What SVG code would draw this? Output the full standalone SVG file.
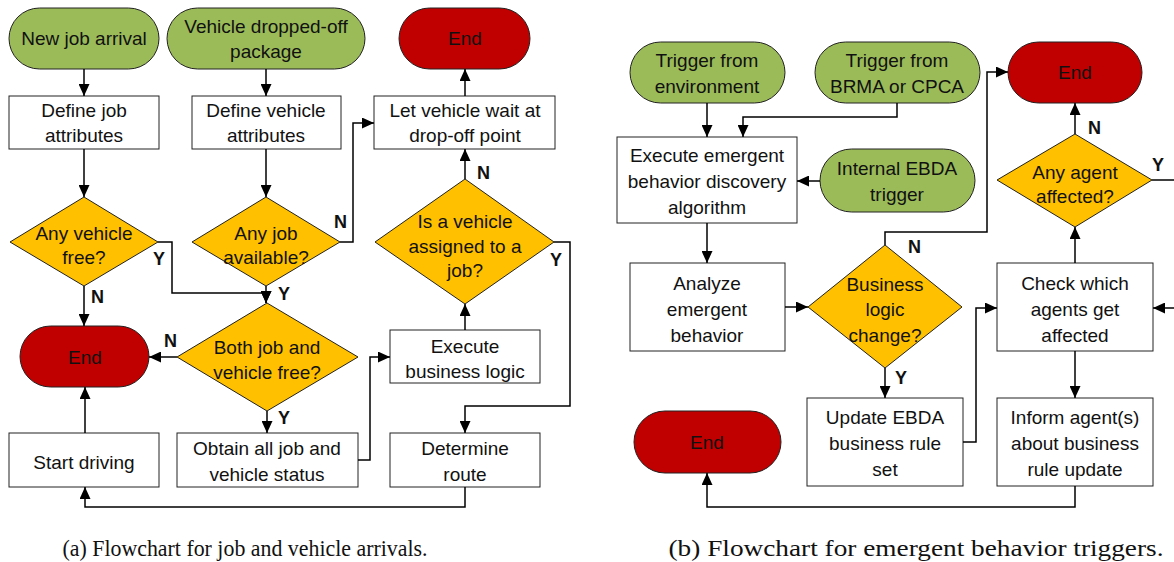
<svg xmlns="http://www.w3.org/2000/svg" width="1174" height="562" viewBox="0 0 1174 562">
<defs>
<marker id="arr" markerUnits="userSpaceOnUse" markerWidth="12" markerHeight="11" viewBox="0 0 12 11" refX="12" refY="5.5" orient="auto">
<path d="M0,0 L12,5.5 L0,11 z" fill="#000"/>
</marker>
<style>
.start{fill:#9BBB59;stroke:#222;stroke-width:1}
.end{fill:#C00000;stroke:#222;stroke-width:1}
.proc{fill:#fff;stroke:#222;stroke-width:1}
.dec{fill:#FFC000;stroke:#222;stroke-width:1}
text{font-family:"Liberation Sans",Arial,sans-serif;font-size:19px;fill:#111;text-anchor:middle;dominant-baseline:central}
.lbl{font-weight:bold;font-size:18px;text-anchor:start}
.cap{font-family:"Liberation Serif","Times New Roman",serif;font-size:23px;dominant-baseline:alphabetic}
#connectors path{fill:none;stroke:#000;stroke-width:1.5}
</style>
</defs>
<rect width="1174" height="562" fill="#fff"/>

<!-- Left flowchart nodes -->
<g id="new-job"><rect class="start" x="9" y="8" width="150" height="61" rx="30.5"/><text x="84" y="38">New job arrival</text></g>
<g id="veh-drop"><rect class="start" x="167" y="8" width="198" height="61" rx="30.5"/><text x="266" y="26">Vehicle dropped-off</text><text x="266" y="51">package</text></g>
<g id="end-a1"><rect class="end" x="399" y="8" width="131" height="61" rx="30.5"/><text x="465" y="38">End</text></g>
<g id="def-job"><rect class="proc" x="9" y="96" width="150" height="53"/><text x="84" y="110">Define job</text><text x="84" y="135">attributes</text></g>
<g id="def-veh"><rect class="proc" x="192" y="96" width="149" height="53"/><text x="266" y="110">Define vehicle</text><text x="266" y="135">attributes</text></g>
<g id="let-wait"><rect class="proc" x="374" y="96" width="181" height="53"/><text x="465" y="110">Let vehicle wait at</text><text x="465" y="135">drop-off point</text></g>
<g id="any-veh"><polygon class="dec" points="84,197 158,242 84,286 10,242"/><text x="84" y="233">Any vehicle</text><text x="84" y="257">free?</text></g>
<g id="any-job"><polygon class="dec" points="266,197 340,242 266,286 192,242"/><text x="266" y="233">Any job</text><text x="266" y="257">available?</text></g>
<g id="is-assigned"><polygon class="dec" points="465,179 554,242 465,304 375,242"/><text x="465" y="221">Is a vehicle</text><text x="465" y="246">assigned to a</text><text x="465" y="270">job?</text></g>
<g id="end-a2"><rect class="end" x="20" y="326" width="129" height="61" rx="30.5"/><text x="85" y="357">End</text></g>
<g id="both-free"><polygon class="dec" points="267,303 358,357 267,411 177,357"/><text x="267" y="347">Both job and</text><text x="267" y="372">vehicle free?</text></g>
<g id="exec-bl"><rect class="proc" x="390" y="330" width="150" height="53"/><text x="465" y="346">Execute</text><text x="465" y="371">business logic</text></g>
<g id="start-driving"><rect class="proc" x="9" y="433" width="150" height="54"/><text x="84" y="462">Start driving</text></g>
<g id="obtain"><rect class="proc" x="177" y="433" width="181" height="54"/><text x="267" y="448">Obtain all job and</text><text x="267" y="474">vehicle status</text></g>
<g id="determine"><rect class="proc" x="390" y="433" width="150" height="54"/><text x="465" y="448">Determine</text><text x="465" y="474">route</text></g>

<!-- Right flowchart nodes -->
<g id="trig-env"><rect class="start" x="630" y="42" width="155" height="61" rx="30.5"/><text x="707" y="60">Trigger from</text><text x="707" y="86">environment</text></g>
<g id="trig-brma"><rect class="start" x="815" y="42" width="165" height="61" rx="30.5"/><text x="897" y="60">Trigger from</text><text x="897" y="86">BRMA or CPCA</text></g>
<g id="end-b1"><rect class="end" x="1008" y="42" width="134" height="61" rx="30.5"/><text x="1075" y="72">End</text></g>
<g id="exec-ebda"><rect class="proc" x="617" y="137" width="180" height="86"/><text x="707" y="155">Execute emergent</text><text x="707" y="181">behavior discovery</text><text x="707" y="207">algorithm</text></g>
<g id="internal"><rect class="start" x="820" y="149" width="155" height="63" rx="31.5"/><text x="897" y="168">Internal EBDA</text><text x="897" y="194">trigger</text></g>
<g id="any-agent"><polygon class="dec" points="1075,134 1152,180 1075,227 997,180"/><text x="1075" y="172">Any agent</text><text x="1075" y="196">affected?</text></g>
<g id="analyze"><rect class="proc" x="630" y="263" width="155" height="88"/><text x="707" y="283">Analyze</text><text x="707" y="309">emergent</text><text x="707" y="335">behavior</text></g>
<g id="bl-change"><polygon class="dec" points="885,245 962,307 885,368 808,307"/><text x="885" y="284">Business</text><text x="885" y="309">logic</text><text x="885" y="335">change?</text></g>
<g id="check"><rect class="proc" x="997" y="263" width="156" height="88"/><text x="1075" y="283">Check which</text><text x="1075" y="309">agents get</text><text x="1075" y="335">affected</text></g>
<g id="end-b2"><rect class="end" x="634" y="411" width="147" height="62" rx="31"/><text x="707" y="442">End</text></g>
<g id="update"><rect class="proc" x="807" y="398" width="156" height="88"/><text x="885" y="417">Update EBDA</text><text x="885" y="443">business rule</text><text x="885" y="469">set</text></g>
<g id="inform"><rect class="proc" x="997" y="398" width="156" height="88"/><text x="1075" y="417">Inform agent(s)</text><text x="1075" y="443">about business</text><text x="1075" y="469">rule update</text></g>

<!-- Connectors -->
<g id="connectors">
<path d="M84,69 V96" marker-end="url(#arr)"/>
<path d="M266,69 V96" marker-end="url(#arr)"/>
<path d="M465,96 V69" marker-end="url(#arr)"/>
<path d="M84,149 V197" marker-end="url(#arr)"/>
<path d="M266,149 V197" marker-end="url(#arr)"/>
<path d="M340,242 H353 V123 H374" marker-end="url(#arr)"/>
<path d="M465,179 V149" marker-end="url(#arr)"/>
<path d="M84,286 V326" marker-end="url(#arr)"/>
<path d="M158,242 H172 V293 H266 V303" marker-end="url(#arr)"/>
<path d="M266,286 V303" marker-end="url(#arr)"/>
<path d="M177,357 H149" marker-end="url(#arr)"/>
<path d="M267,411 V433" marker-end="url(#arr)"/>
<path d="M358,460 H370 V357 H390" marker-end="url(#arr)"/>
<path d="M465,330 V304" marker-end="url(#arr)"/>
<path d="M554,242 H570 V406 H465 V433" marker-end="url(#arr)"/>
<path d="M465,487 V507 H85 V487" marker-end="url(#arr)"/>
<path d="M85,433 V387" marker-end="url(#arr)"/>

<path d="M707,103 V137" marker-end="url(#arr)"/>
<path d="M897,103 V117 H743 V137" marker-end="url(#arr)"/>
<path d="M820,181 H797" marker-end="url(#arr)"/>
<path d="M707,223 V263" marker-end="url(#arr)"/>
<path d="M785,307 H808" marker-end="url(#arr)"/>
<path d="M885,245 V232 H987 V72 H1008" marker-end="url(#arr)"/>
<path d="M885,368 V398" marker-end="url(#arr)"/>
<path d="M963,442 H976 V308 H997" marker-end="url(#arr)"/>
<path d="M1075,263 V227" marker-end="url(#arr)"/>
<path d="M1075,134 V103" marker-end="url(#arr)"/>
<path d="M1152,180 H1174"/>
<path d="M1174,308 H1153" marker-end="url(#arr)"/>
<path d="M1075,351 V398" marker-end="url(#arr)"/>
<path d="M1075,486 V507 H707 V473" marker-end="url(#arr)"/>
</g>

<!-- Connector labels -->
<g id="labels">
<text class="lbl" x="334" y="222">N</text>
<text class="lbl" x="477" y="173">N</text>
<text class="lbl" x="153" y="259">Y</text>
<text class="lbl" x="91" y="297">N</text>
<text class="lbl" x="278" y="294">Y</text>
<text class="lbl" x="164" y="341">N</text>
<text class="lbl" x="278" y="418">Y</text>
<text class="lbl" x="550" y="260">Y</text>
<text class="lbl" x="908" y="247">N</text>
<text class="lbl" x="895" y="378">Y</text>
<text class="lbl" x="1088" y="128">N</text>
<text class="lbl" x="1152" y="165">Y</text>
</g>

<text class="cap" x="245" y="556" textLength="365" lengthAdjust="spacingAndGlyphs">(a) Flowchart for job and vehicle arrivals.</text>
<text class="cap" x="916" y="556" textLength="495" lengthAdjust="spacingAndGlyphs">(b) Flowchart for emergent behavior triggers.</text>
</svg>
